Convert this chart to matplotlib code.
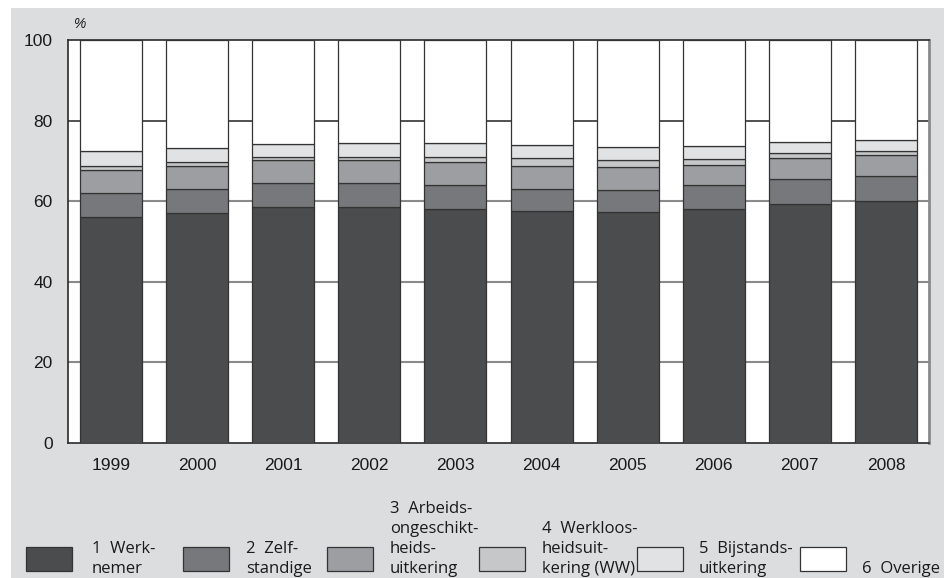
import matplotlib
matplotlib.use('Agg')
import matplotlib.pyplot as plt
from matplotlib.patches import Rectangle
import numpy as np

years = ['1999', '2000', '2001', '2002', '2003', '2004', '2005', '2006', '2007', '2008']
werknemer = [56.2, 57.1, 58.6, 58.6, 58.1, 57.5, 57.2, 58.0, 59.4, 60.1]
zelfstandige = [5.8, 5.9, 5.8, 5.8, 5.8, 5.6, 5.7, 5.9, 6.2, 6.2]
ao_uitkering = [5.7, 5.7, 5.8, 5.7, 5.8, 5.7, 5.7, 5.2, 5.2, 5.2]
ww_uitkering = [1.1, 1.0, 0.8, 0.9, 1.3, 1.8, 1.6, 1.4, 1.1, 0.9]
bijstand = [3.6, 3.4, 3.3, 3.4, 3.4, 3.4, 3.3, 3.3, 2.7, 2.7]
overige = [100 - sum(v) for v in zip(werknemer, zelfstandige, ao_uitkering, ww_uitkering, bijstand)]

series = [werknemer, zelfstandige, ao_uitkering, ww_uitkering, bijstand, overige]
labels = ['1  Werk-\nnemer', '2  Zelf-\nstandige', '3  Arbeids-\nongeschikt-\nheids-\nuitkering',
          '4  Werkloos-\nheidsuit-\nkering (WW)', '5  Bijstands-\nuitkering', '6  Overige']
colors = ['#4b4c4e', '#77787b', '#9d9ea1', '#c6c7c9', '#e1e2e4', '#ffffff']

plt.rcParams['font.family'] = ['Liberation Sans', 'DejaVu Sans']

W, H = 945, 578
fig = plt.figure(figsize=(W / 100, H / 100), dpi=100)
fig.patch.set_facecolor('white')
# grey panel behind everything
fig.add_artist(Rectangle((11 / W, 0), 1 - 11 / W, 1 - 8 / H, transform=fig.transFigure,
                         facecolor='#dcdddf', edgecolor='none', zorder=-10))

ax = fig.add_axes([68 / W, 1 - 443 / H, (929 - 68) / W, (443 - 40) / H])
ax.set_facecolor('white')

x = np.arange(len(years))
bottom = np.zeros(len(years))
for vals, c in zip(series, colors):
    ax.bar(x, vals, 0.72, bottom=bottom, color=c, edgecolor='#333333', linewidth=0.9, zorder=3)
    bottom += np.array(vals)

for yv in [20, 40, 60]:
    ax.axhline(yv, color='#8a8a8a', lw=1.5, zorder=1)
ax.axhline(80, color='#333333', lw=1.2, zorder=1)

ax.set_xlim(-0.5, 9.5)
ax.set_ylim(0, 100)
ax.set_yticks([0, 20, 40, 60, 80, 100])
ax.set_xticks(x)
ax.set_xticklabels(years)
ax.tick_params(axis='both', length=0, labelsize=12.5, colors='#1a1a1a')
ax.tick_params(axis='y', pad=11)
ax.tick_params(axis='x', pad=11)
for s in ['left', 'bottom', 'top']:
    ax.spines[s].set_color('#2a2a2a')
    ax.spines[s].set_linewidth(1.2)
ax.spines['right'].set_color('#8a8a8a')
ax.spines['right'].set_linewidth(2)

fig.text(73 / W, 1 - 28 / H, '%', fontsize=10, color='#1a1a1a', style='italic')

# legend drawn by hand
patch_x = [26, 183, 327, 479, 637, 800]
text_x = [92, 246, 390, 542, 699, 862]
for px, tx, c, lab in zip(patch_x, text_x, colors, labels):
    fig.add_artist(Rectangle((px / W, 1 - 571 / H), 46 / W, 24 / H, transform=fig.transFigure,
                             facecolor=c, edgecolor='#333333', linewidth=0.9))
    fig.text(tx / W, 1 - 577 / H, lab, fontsize=12, family=['Open Sans', 'DejaVu Sans'],
             color='#1a1a1a', va='bottom', ha='left', linespacing=1.32)

fig.savefig('out.png', dpi=100, facecolor=fig.get_facecolor())
